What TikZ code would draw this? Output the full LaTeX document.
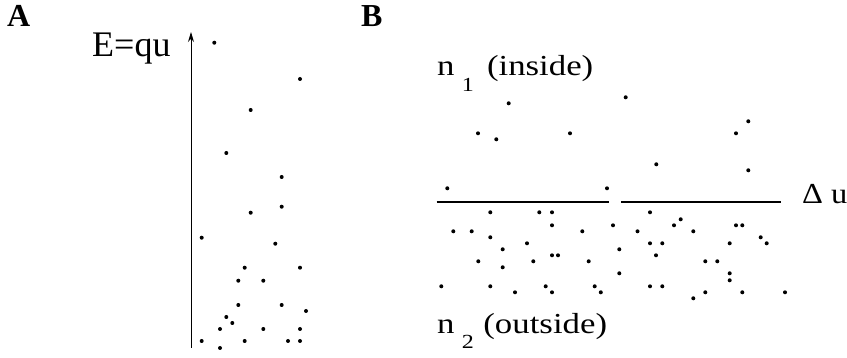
\documentclass[tikz,border=0pt]{standalone}
\usepackage{fontspec}
\setmainfont{Liberation Serif}
\usetikzlibrary{arrows.meta, positioning}
\tikzset{
  pdot/.style ={fill=black, draw=none},
  plbl/.style ={anchor=base west, inner sep=0pt, font=\fontsize{29}{29}\selectfont},
  elbl/.style ={anchor=base west, inner sep=0pt, font=\fontsize{36}{36}\selectfont},
  ptag/.style ={anchor=base west, inner sep=0pt, font=\fontsize{32}{32}\selectfont\bfseries},
  axarr/.style={-{Stealth[length=10pt, width=6pt]}, line width=1pt},
  memb/.style ={line width=1.6pt},
}
\newcommand{\sub}[2]{\raisebox{-#1pt}{\fontsize{20}{20}\selectfont #2}}
\newcommand{\wide}[1]{\scalebox{1.2}[1]{#1}}

\begin{document}
\begin{tikzpicture}[x=1pt, y=-1pt]
  \useasboundingbox (0,0) rectangle (847,358);
  % panel A
  \node[ptag] (tagA) at (7,26.7) {A};
  \node[elbl] (energy) at (92,56.7) {E=qu};
  \coordinate (axbot) at (191,348);
  \coordinate (axtop) at (191,32);
  \draw[axarr] (axbot) -- (axtop);
  \foreach \x/\y in {214.3/42.7, 300/79, 250.7/110, 226.3/153, 281.7/177, 281.7/206.7,
                     250.7/212.7, 201.7/237.7, 275.3/243.7, 244.7/267.7, 300/267.7,
                     238.3/280.7, 263.3/280.7, 238.3/305, 281.7/305, 306/311, 226.3/317,
                     232.3/323, 220/329, 263.3/329, 300/329, 201.7/341, 244.7/341,
                     288/341, 300/341, 220/348}
    \fill[pdot] (\x,\y) circle (2pt);
  % panel B
  \node[ptag] (tagB) at (361,26.7) {B};
  \node[plbl] (inside) at (437,76) {\wide{n\hspace{6pt}\sub{16}{1}\hspace{11pt}(inside)}};
  \node[plbl] (outside) at (437,333.3) {\wide{n\hspace{6pt}\sub{15}{2}\hspace{8pt}(outside)}};
  \node[plbl] (du) at (802,203.3) {\scalebox{1.12}[1]{Δ u}};
  \coordinate (m1a) at (436.7,202.3);
  \coordinate (m1b) at (609,202.3);
  \coordinate (m2a) at (621,202.3);
  \coordinate (m2b) at (781,202.3);
  \draw[memb] (m1a) -- (m1b);
  \draw[memb] (m2a) -- (m2b);
  \foreach \x/\y in {508.7/103.3, 625.7/97.3, 478/133.3, 496.3/139.3, 570/133.3,
                     447.3/188.3, 607/188.3, 748.3/121.3, 736/133.3, 656.3/164.3, 748.3/170.3,
                     490.3/212.3, 539.3/212.3, 552/212.3, 552/225.3, 453.3/231.3, 471.7/231.3,
                     582.3/231.3, 613/225.3, 637.5/231.3, 490.3/237.3, 527/243.3, 502.7/249.3,
                     619.3/249.3, 552/255.3, 558/255.3, 478.3/261.3, 533.3/261.3, 588.7/261.3,
                     502.7/267.3, 619.3/273.3, 441.3/286.3, 490.3/286.3, 545.7/286.3,
                     594.7/286.3, 515/292.3, 552/292.3, 600.8/292.3,
                     650/212.3, 680.7/219.3, 674/225.3, 693.3/231.3, 736/225.3, 742.3/225.3,
                     760.7/237.3, 766.7/243.3, 650/243.3, 662.3/243.3, 729.7/243.3, 656/255.3,
                     705.3/261.3, 717.3/261.3, 729.7/273.3, 729.7/280.3, 650/286.3, 662.3/286.3,
                     693.3/298.3, 705.3/292.3, 742.3/292.3, 785/292.3}
    \fill[pdot] (\x,\y) circle (2pt);
\end{tikzpicture}
\end{document}
